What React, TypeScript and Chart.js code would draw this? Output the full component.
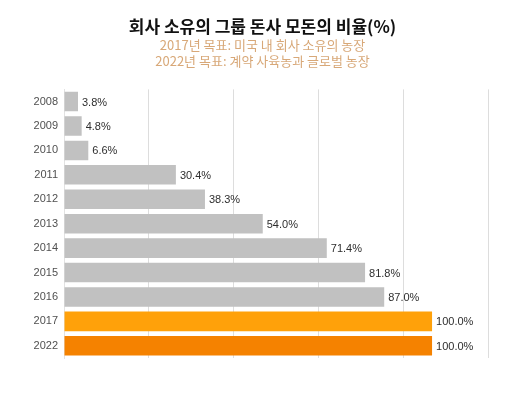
import React, { useEffect, useRef } from "react";
import { Chart, registerables } from "chart.js";

Chart.register(...registerables);

const categories = ["2008", "2009", "2010", "2011", "2012", "2013", "2014", "2015", "2016", "2017", "2022"];
const values = [3.8, 4.8, 6.6, 30.4, 38.3, 54.0, 71.4, 81.8, 87.0, 100.0, 100.0];
const barColors = ["#c1c1c1", "#c1c1c1", "#c1c1c1", "#c1c1c1", "#c1c1c1", "#c1c1c1", "#c1c1c1", "#c1c1c1", "#c1c1c1", "#ffa10a", "#f58200"];
const titleText = "회사 소유의 그룹 돈사 모돈의 비율(%)";
const subtitleLines = ["2017년 목표: 미국 내 회사 소유의 농장", "2022년 목표: 계약 사육농과 글로벌 농장"];
const xMax = 115.2;
const gridValues = [0, 23.04, 46.08, 69.12, 92.16, 115.2];

const valueLabels = {
  id: "valueLabels",
  afterDatasetsDraw(chart: any) {
    const ctx = chart.ctx;
    const meta = chart.getDatasetMeta(0);
    ctx.save();
    ctx.font = "11px 'Liberation Sans', Arial, sans-serif";
    ctx.fillStyle = "#2e2e2e";
    ctx.textAlign = "left";
    ctx.textBaseline = "middle";
    meta.data.forEach((bar: any, i: number) => {
      ctx.fillText(values[i].toFixed(1) + "%", bar.x + 4, bar.y + 1);
    });
    ctx.restore();
  },
};

export default function App() {
  const ref = useRef<HTMLCanvasElement | null>(null);
  useEffect(() => {
    if (!ref.current) return;
    const chart = new Chart(ref.current, {
      type: "bar",
      data: {
        labels: categories,
        datasets: [
          {
            data: values,
            backgroundColor: barColors,
            categoryPercentage: 1,
            barPercentage: 0.8,
          },
        ],
      },
      options: {
        indexAxis: "y",
        animation: false,
        responsive: false,
        layout: { padding: { left: 0, right: 0, bottom: 35, top: 0 } },
        plugins: {
          legend: { display: false },
          tooltip: { enabled: false },
          title: {
            display: true,
            text: titleText,
            color: "#111",
            font: { family: "'Noto Sans CJK KR', sans-serif", size: 17, weight: "bold", lineHeight: 1.2 },
            padding: { top: 16, bottom: 1 },
          },
          subtitle: {
            display: true,
            text: subtitleLines,
            color: "#d8a878",
            font: { family: "'Noto Sans CJK KR', sans-serif", size: 13, lineHeight: 1.23 },
            padding: { top: 0, bottom: 20 },
          },
        },
        scales: {
          x: {
            min: 0,
            max: xMax,
            afterBuildTicks: (scale: any) => {
              scale.ticks = gridValues.map((v) => ({ value: v }));
            },
            ticks: { display: false },
            grid: { color: "#dddddd", drawTicks: false },
            border: { display: false },
          },
          y: {
            afterFit: (scale: any) => {
              scale.width = 64;
            },
            ticks: {
              color: "#505050",
              padding: 6,
              font: { family: "'Liberation Sans', Arial, sans-serif", size: 11 },
            },
            grid: { display: false, drawTicks: false },
            border: { display: true, color: "#e2e2e2" },
          },
          yRight: {
            type: "category",
            position: "right",
            display: true,
            afterFit: (scale: any) => {
              scale.width = 37;
            },
            ticks: { display: false },
            grid: { display: false, drawTicks: false },
            border: { display: false },
          },
        },
      },
      plugins: [valueLabels],
    } as any);
    return () => chart.destroy();
  }, []);
  return (
    <div style={{ position: "fixed", left: 0, top: 0, width: 525, height: 393, background: "#fff" }}>
      <canvas ref={ref} width={525} height={393} />
    </div>
  );
}
